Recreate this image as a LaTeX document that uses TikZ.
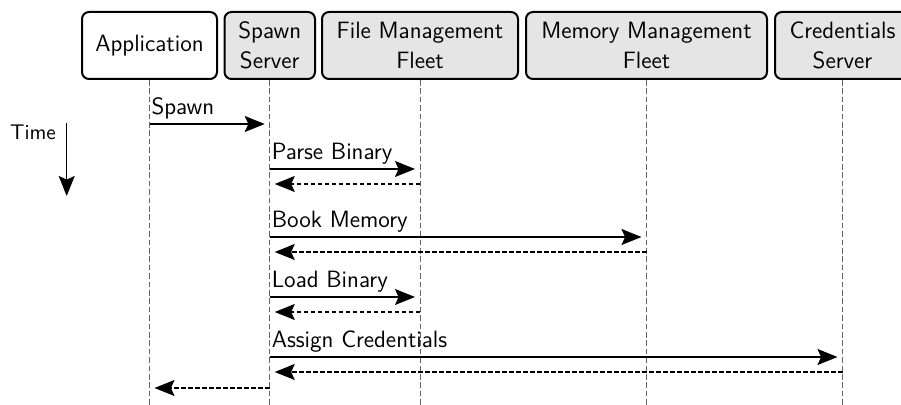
\documentclass[tikz,border=0pt]{standalone}
\usetikzlibrary{arrows.meta}
\begin{document}
\begin{tikzpicture}[x=0.5pt,y=-0.5pt,
  every node/.style={font=\sffamily\fontsize{11.8}{15}\selectfont},
  actor/.style={draw, line width=1pt, rounded corners=3.5pt, align=center,
    minimum height=33.5pt, inner sep=0pt, fill=black!10},
  lifeline/.style={draw=black!60, line width=0.5pt, dash pattern=on 2.8pt off 1.4pt},
  tip/.style={-{Stealth[length=10pt,width=8pt,inset=1.8pt]}},
  msg/.style={line width=0.75pt, tip, shorten >=2.5pt},
  ret/.style={msg, dash pattern=on 2.2pt off 1.3pt},
  lbl/.style={anchor=south west, inner xsep=0.8pt, inner ysep=2.3pt}]
\useasboundingbox (0,0) rectangle (901,405);
% actors
\node[actor, fill=white, minimum width=67.5pt] (A) at (149.5,45.5) {Application};
\node[actor, minimum width=45.25pt] (S) at (269.75,45.5) {Spawn\\Server};
\node[actor, minimum width=98pt] (F) at (420,45.5) {File Management\\Fleet};
\node[actor, minimum width=120.5pt] (M) at (646.5,45.5) {Memory Management\\Fleet};
\node[actor, minimum width=67.5pt] (C) at (842.5,45.5) {Credentials\\Server};
% lifeline ends
\coordinate (Ae) at (149.5,405);
\coordinate (Se) at (269.75,405);
\coordinate (Fe) at (420,405);
\coordinate (Me) at (646.5,405);
\coordinate (Ce) at (842.5,405);
\draw[lifeline] (A.south) -- (Ae);
\draw[lifeline] (S.south) -- (Se);
\draw[lifeline] (F.south) -- (Fe);
\draw[lifeline] (M.south) -- (Me);
\draw[lifeline] (C.south) -- (Ce);
% time
\node[font=\sffamily\fontsize{10.6}{13}\selectfont] (T) at (33,132) {Time};
\coordinate (t0) at (66.7,123);
\coordinate (t1) at (66.7,196);
\draw[line width=0.75pt, tip] (t0) -- (t1);
% message rows
\coordinate (a1) at (A.south |- 0,124);
\coordinate (s1) at (S.south |- 0,124);
\draw[msg] (a1) -- (s1);
\node[lbl] (l1) at (a1) {Spawn};

\coordinate (s2) at (S.south |- 0,169);
\coordinate (f2) at (F.south |- 0,169);
\draw[msg] (s2) -- (f2);
\node[lbl] (l2) at (s2) {Parse Binary};
\coordinate (s3) at (S.south |- 0,184);
\coordinate (f3) at (F.south |- 0,184);
\draw[ret] (f3) -- (s3);

\coordinate (s4) at (S.south |- 0,237);
\coordinate (m4) at (M.south |- 0,237);
\draw[msg] (s4) -- (m4);
\node[lbl] (l4) at (s4) {Book Memory};
\coordinate (s5) at (S.south |- 0,252);
\coordinate (m5) at (M.south |- 0,252);
\draw[ret] (m5) -- (s5);

\coordinate (s6) at (S.south |- 0,297);
\coordinate (f6) at (F.south |- 0,297);
\draw[msg] (s6) -- (f6);
\node[lbl] (l6) at (s6) {Load Binary};
\coordinate (s7) at (S.south |- 0,312);
\coordinate (f7) at (F.south |- 0,312);
\draw[ret] (f7) -- (s7);

\coordinate (s8) at (S.south |- 0,357);
\coordinate (c8) at (C.south |- 0,357);
\draw[msg] (s8) -- (c8);
\node[lbl] (l8) at (s8) {Assign Credentials};
\coordinate (s9) at (S.south |- 0,372);
\coordinate (c9) at (C.south |- 0,372);
\draw[ret] (c9) -- (s9);

\coordinate (s10) at (S.south |- 0,388);
\coordinate (a10) at (A.south |- 0,388);
\draw[ret] (s10) -- (a10);
\end{tikzpicture}
\end{document}
